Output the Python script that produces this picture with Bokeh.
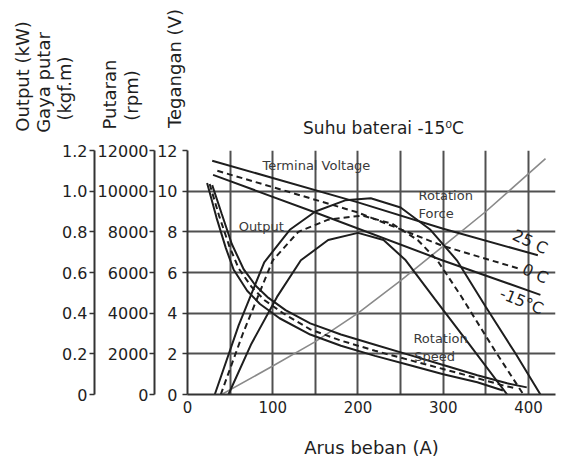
from bokeh.plotting import figure
from bokeh.layouts import column
from bokeh.models import Range1d, LinearAxis, FixedTicker, CustomJSTickFormatter, Label
from bokeh.embed import file_html
from bokeh.resources import INLINE

# ---------------- data ----------------
x_ticks = [0, 100, 200, 300, 400]
x_grid = [50, 100, 150, 200, 250, 300, 350, 400]
v_ticks = [0, 2, 4, 6, 8, 10, 12]
rpm_ticks = [0, 2000, 4000, 6000, 8000, 10000, 12000]
kw_ticks = [0, 0.2, 0.4, 0.6, 0.8, 1.0, 1.2]

# Terminal voltage (V)
tv_25_a = [29, 100, 200, 300, 411]
tv_25_v = [11.5, 10.65, 9.45, 8.15, 6.85]
tv_0_a = [35, 100, 200, 300, 388]
tv_0_v = [11.0, 10.2, 8.95, 7.3, 6.2]
tv_m15_a = [30, 150, 297, 414]
tv_m15_v = [10.8, 8.95, 6.63, 4.9]

# Output (kW)
out_25_a = [32, 60, 90, 120, 150, 185, 215, 250, 285, 316, 350, 385, 414]
out_25_kw = [0, 0.34, 0.65, 0.81, 0.90, 0.955, 0.965, 0.92, 0.81, 0.66, 0.43, 0.20, 0]
out_0_a = [39, 65, 100, 130, 165, 205, 240, 270, 293, 320, 360, 394]
out_0_kw = [0, 0.30, 0.66, 0.80, 0.86, 0.88, 0.84, 0.76, 0.66, 0.49, 0.22, 0]
out_m15_a = [48, 75, 105, 133, 165, 200, 230, 256, 290, 330, 375]
out_m15_kw = [0, 0.25, 0.48, 0.66, 0.76, 0.795, 0.76, 0.66, 0.47, 0.25, 0]

# Rotation speed (rpm)
spd_hi_a = [29, 40, 52, 66, 80, 95, 115, 144, 180, 220, 260, 300, 340, 375, 398]
spd_hi_rpm = [10300, 8900, 7400, 6150, 5350, 4750, 4150, 3500, 2950, 2450, 1950, 1450, 950, 550, 350]
spd_mid_a = [26, 37, 49, 60, 75, 90, 112, 144, 180, 220, 260, 300, 340, 370, 385]
spd_mid_rpm = [10350, 8800, 7300, 6200, 5300, 4650, 4000, 3200, 2650, 2150, 1700, 1250, 800, 450, 300]
spd_lo_a = [23, 34, 45, 54, 70, 85, 108, 144, 180, 220, 260, 300, 340, 370]
spd_lo_rpm = [10400, 8700, 7200, 6150, 5100, 4450, 3750, 2950, 2400, 1900, 1450, 1000, 600, 200]

# Rotation force / torque (kgf.m)
tq_a = [40, 100, 150, 200, 250, 300, 350, 420]
tq_kgfm = [0.0, 0.14, 0.26, 0.40, 0.56, 0.73, 0.90, 1.16]

# ---------------- styling ----------------
FONT = "DejaVu Sans"
INK = "#1e1e1e"
GRID = "#505050"
W = 560

# ---------------- header (titles above the plot) ----------------
hdr = figure(width=W, height=140, output_backend="svg", toolbar_location=None,
             x_range=Range1d(0, W), y_range=Range1d(0, 140),
             x_axis_type=None, y_axis_type=None, min_border=0)
hdr.frame_align = False
hdr.outline_line_color = None
hdr.grid.visible = False
hdr.background_fill_color = "white"
hdr.border_fill_color = "white"

def hlab(text, x, y, size="18px", angle=0):
    hdr.add_layout(Label(x=x, y=y, text=text, text_font=FONT, text_font_size=size,
                         text_color=INK, text_align="center", text_baseline="middle",
                         angle=angle, angle_units="deg"))

hlab("Output (kW)", 22, 64, angle=90)
hlab("Gaya putar", 43, 58, angle=90)
hlab("(kgf.m)", 64, 52, angle=90)
hlab("Putaran", 109, 46, angle=90)
hlab("(rpm)", 131, 45, angle=90)
hlab("Tegangan (V)", 174, 72, angle=90)
hlab("Suhu baterai -15\u2070C", 383, 13, size="17px")

# ---------------- main chart ----------------
p = figure(width=W, height=320, output_backend="svg", toolbar_location=None,
           x_range=Range1d(0, 431.7), y_range=Range1d(0, 12),
           min_border_left=187, min_border_right=5, min_border_top=10,
           min_border_bottom=64)
p.frame_align = False
p.extra_y_ranges = {"rpm": Range1d(0, 12000), "kw": Range1d(0, 1.2)}
p.outline_line_color = None
p.background_fill_color = "white"
p.border_fill_color = "white"

p.xgrid.ticker = FixedTicker(ticks=x_grid)
p.ygrid.ticker = FixedTicker(ticks=v_ticks[1:])
for g in (p.xgrid, p.ygrid):
    g.grid_line_color = GRID
    g.grid_line_width = 2

def style_axis(ax, size="16px"):
    ax.axis_line_color = "#333333"
    ax.axis_line_width = 2
    ax.major_tick_line_color = "#333333"
    ax.major_tick_line_width = 1.5
    ax.minor_tick_line_color = None
    ax.major_label_text_font = FONT
    ax.major_label_text_font_size = size
    ax.major_label_text_color = INK

xa = p.xaxis[0]
xa.ticker = FixedTicker(ticks=x_ticks)
style_axis(xa, "15px")
xa.major_tick_out = 0
xa.major_tick_in = 0
xa.major_label_standoff = 6
xa.axis_label = "Arus beban (A)"
xa.axis_label_text_font = FONT
xa.axis_label_text_font_size = "18px"
xa.axis_label_text_font_style = "normal"
xa.axis_label_text_color = INK
xa.axis_label_standoff = 21

va = p.yaxis[0]
va.ticker = FixedTicker(ticks=v_ticks)
style_axis(va)
va.major_tick_out = 5
va.major_tick_in = 0
va.major_label_standoff = 5

ra = LinearAxis(y_range_name="rpm", ticker=FixedTicker(ticks=rpm_ticks))
style_axis(ra)
ra.major_tick_out = 5
ra.major_tick_in = 0
ra.major_label_standoff = 1
p.add_layout(ra, "left")

ka = LinearAxis(y_range_name="kw", ticker=FixedTicker(ticks=kw_ticks),
                formatter=CustomJSTickFormatter(code="return tick == 0 ? '0' : tick.toFixed(1);"))
style_axis(ka)
ka.major_tick_out = 5
ka.major_tick_in = 0
ka.major_label_standoff = 2
p.add_layout(ka, "left")

LW = 2
DASH = "6 4"
p.line(tq_a, tq_kgfm, y_range_name="kw", line_color="#8a8a8a", line_width=1.6)
p.line(tv_25_a, tv_25_v, line_color=INK, line_width=LW)
p.line(tv_0_a, tv_0_v, line_color=INK, line_width=LW, line_dash=DASH)
p.line(tv_m15_a, tv_m15_v, line_color=INK, line_width=LW)
p.line(out_25_a, out_25_kw, y_range_name="kw", line_color=INK, line_width=LW)
p.line(out_0_a, out_0_kw, y_range_name="kw", line_color=INK, line_width=LW, line_dash=DASH)
p.line(out_m15_a, out_m15_kw, y_range_name="kw", line_color=INK, line_width=LW)
p.line(spd_hi_a, spd_hi_rpm, y_range_name="rpm", line_color=INK, line_width=LW)
p.line(spd_mid_a, spd_mid_rpm, y_range_name="rpm", line_color=INK, line_width=LW, line_dash=DASH)
p.line(spd_lo_a, spd_lo_rpm, y_range_name="rpm", line_color=INK, line_width=LW)

def lab(text, x, y, size="13px", align="left", angle=0, color="#3a3a3a"):
    p.add_layout(Label(x=x, y=y, text=text, text_font=FONT, text_font_size=size,
                       text_color=color, text_align=align, text_baseline="middle",
                       angle=angle, angle_units="deg"))

lab("Terminal Voltage", 88, 11.27)
lab("Output", 60, 8.24)
lab("Rotation", 271, 9.8)
lab("Force", 271, 8.88)
lab("Rotation", 265, 2.73)
lab("Speed", 266, 1.85)
lab("25 C", 402, 7.51, size="16px", align="center", angle=-25, color=INK)
lab("0 C", 408, 5.95, size="16px", align="center", angle=-25, color=INK)
lab("-15°C", 392, 4.59, size="16px", align="center", angle=-22, color=INK)

open("out.html", "w").write(file_html(column(hdr, p), INLINE))
